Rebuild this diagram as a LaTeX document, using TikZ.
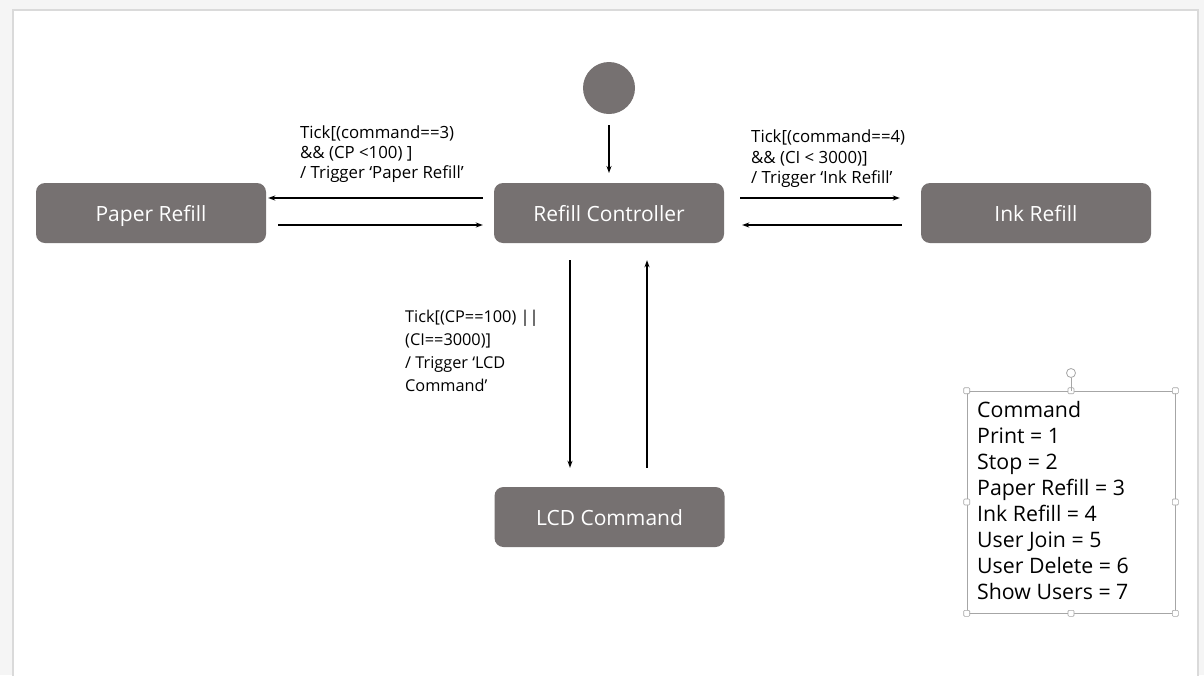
\documentclass[tikz,border=0pt]{standalone}
\usepackage{fontspec}
\setmainfont{Open Sans}
\usetikzlibrary{arrows.meta}
\definecolor{stategray}{HTML}{767171}
\definecolor{framegray}{HTML}{DADADA}
\definecolor{handlegray}{HTML}{A6A6A6}
\tikzset{
  state/.style={rectangle, rounded corners=9pt, fill=stategray, text=white,
    minimum width=230pt, minimum height=60pt, inner sep=0pt,
    text height=20pt, text depth=3pt,
    font=\fontsize{21}{24}\selectfont},
  flow/.style={-{Stealth[length=7pt,width=5pt]}, line width=1.2pt, black},
  guard/.style={align=left, anchor=north west, inner sep=0pt, text=black},
  handle/.style={draw=handlegray, fill=white, line width=0.6pt, minimum size=6pt, inner sep=0pt, rectangle, rounded corners=1pt},
}
\begin{document}
\begin{tikzpicture}[x=1pt,y=-1pt]
  % page background and slide frame
  \fill[white!96!black] (0,0) rectangle (1204,675);
  \useasboundingbox (0,0) rectangle (1204,675);
  \fill[white] (13,10) rectangle (1198,680);
  \draw[framegray, line width=1.5pt] (13,680) -- (13,10) -- (1198,10) -- (1198,680);

  % states
  \node[circle, fill=stategray, minimum size=52pt, inner sep=0pt] (init) at (609,88) {};
  \node[state] (ctrl)  at (609,213) {Refill Controller};
  \node[state] (paper) at (151,213) {Paper Refill};
  \node[state] (ink)   at (1036,213) {Ink Refill};
  \node[state] (lcd)   at (609.5,517) {LCD Command};

  % helper points for the connector ends
  \coordinate (initEnd) at (609,125);
  \coordinate (ctrlTop) at (609,173);

  % transitions (yshift is measured upwards)
  \draw[flow] (initEnd) -- (ctrlTop);
  \draw[flow] ([xshift=-11pt,yshift=15pt]ctrl.west) -- ([xshift=2pt,yshift=15pt]paper.east);
  \draw[flow] ([xshift=12pt,yshift=-12pt]paper.east) -- ([xshift=-11pt,yshift=-12pt]ctrl.west);
  \draw[flow] ([xshift=16pt,yshift=15pt]ctrl.east) -- ([xshift=-21pt,yshift=15pt]ink.west);
  \draw[flow] ([xshift=-19pt,yshift=-12pt]ink.west) -- ([xshift=18pt,yshift=-12pt]ctrl.east);
  \draw[flow] ([xshift=-39pt,yshift=-17pt]ctrl.south) -- ([xshift=-39.5pt,yshift=19pt]lcd.north);
  \draw[flow] ([xshift=37.5pt,yshift=19pt]lcd.north) -- ([xshift=38pt,yshift=-17pt]ctrl.south);

  % guards
  \node[guard, font=\fontsize{16.8}{20}\selectfont] (gPaper) at (300,126)
    {Tick[(command==3)\\\&\& (CP <100) ]\\/ Trigger ‘Paper Refill’};
  \node[guard, font=\fontsize{16.8}{20.5}\selectfont] (gInk) at (751,130)
    {Tick[(command==4)\\\&\& (CI < 3000)]\\/ Trigger ‘Ink Refill’};
  \node[guard, font=\fontsize{16.3}{23}\selectfont] (gLcd) at (405,310)
    {Tick[(CP==100) ||\\(CI==3000)]\\/ Trigger ‘LCD\\Command’};

  % command legend with its selection frame
  \node[draw=handlegray, line width=0.6pt, rectangle, minimum width=208pt, minimum height=222pt, inner sep=0pt] (legend) at (1071,502) {};
  \node[guard, font=\fontsize{21.3}{26}\selectfont] (legendText) at (977,401)
    {Command\\Print = 1\\Stop = 2\\Paper Refill = 3\\Ink Refill = 4\\User Join = 5\\User Delete = 6\\Show Users = 7};
  \foreach \a in {north west,north,north east,east,south east,south,south west,west}
    \node[handle] at (legend.\a) {};
  \node[draw=handlegray, circle, line width=0.8pt, minimum size=9pt, inner sep=0pt] (rot) at (1071,373) {};
  \draw[handlegray, line width=0.6pt] (rot.south) -- (legend.north);
\end{tikzpicture}
\end{document}
